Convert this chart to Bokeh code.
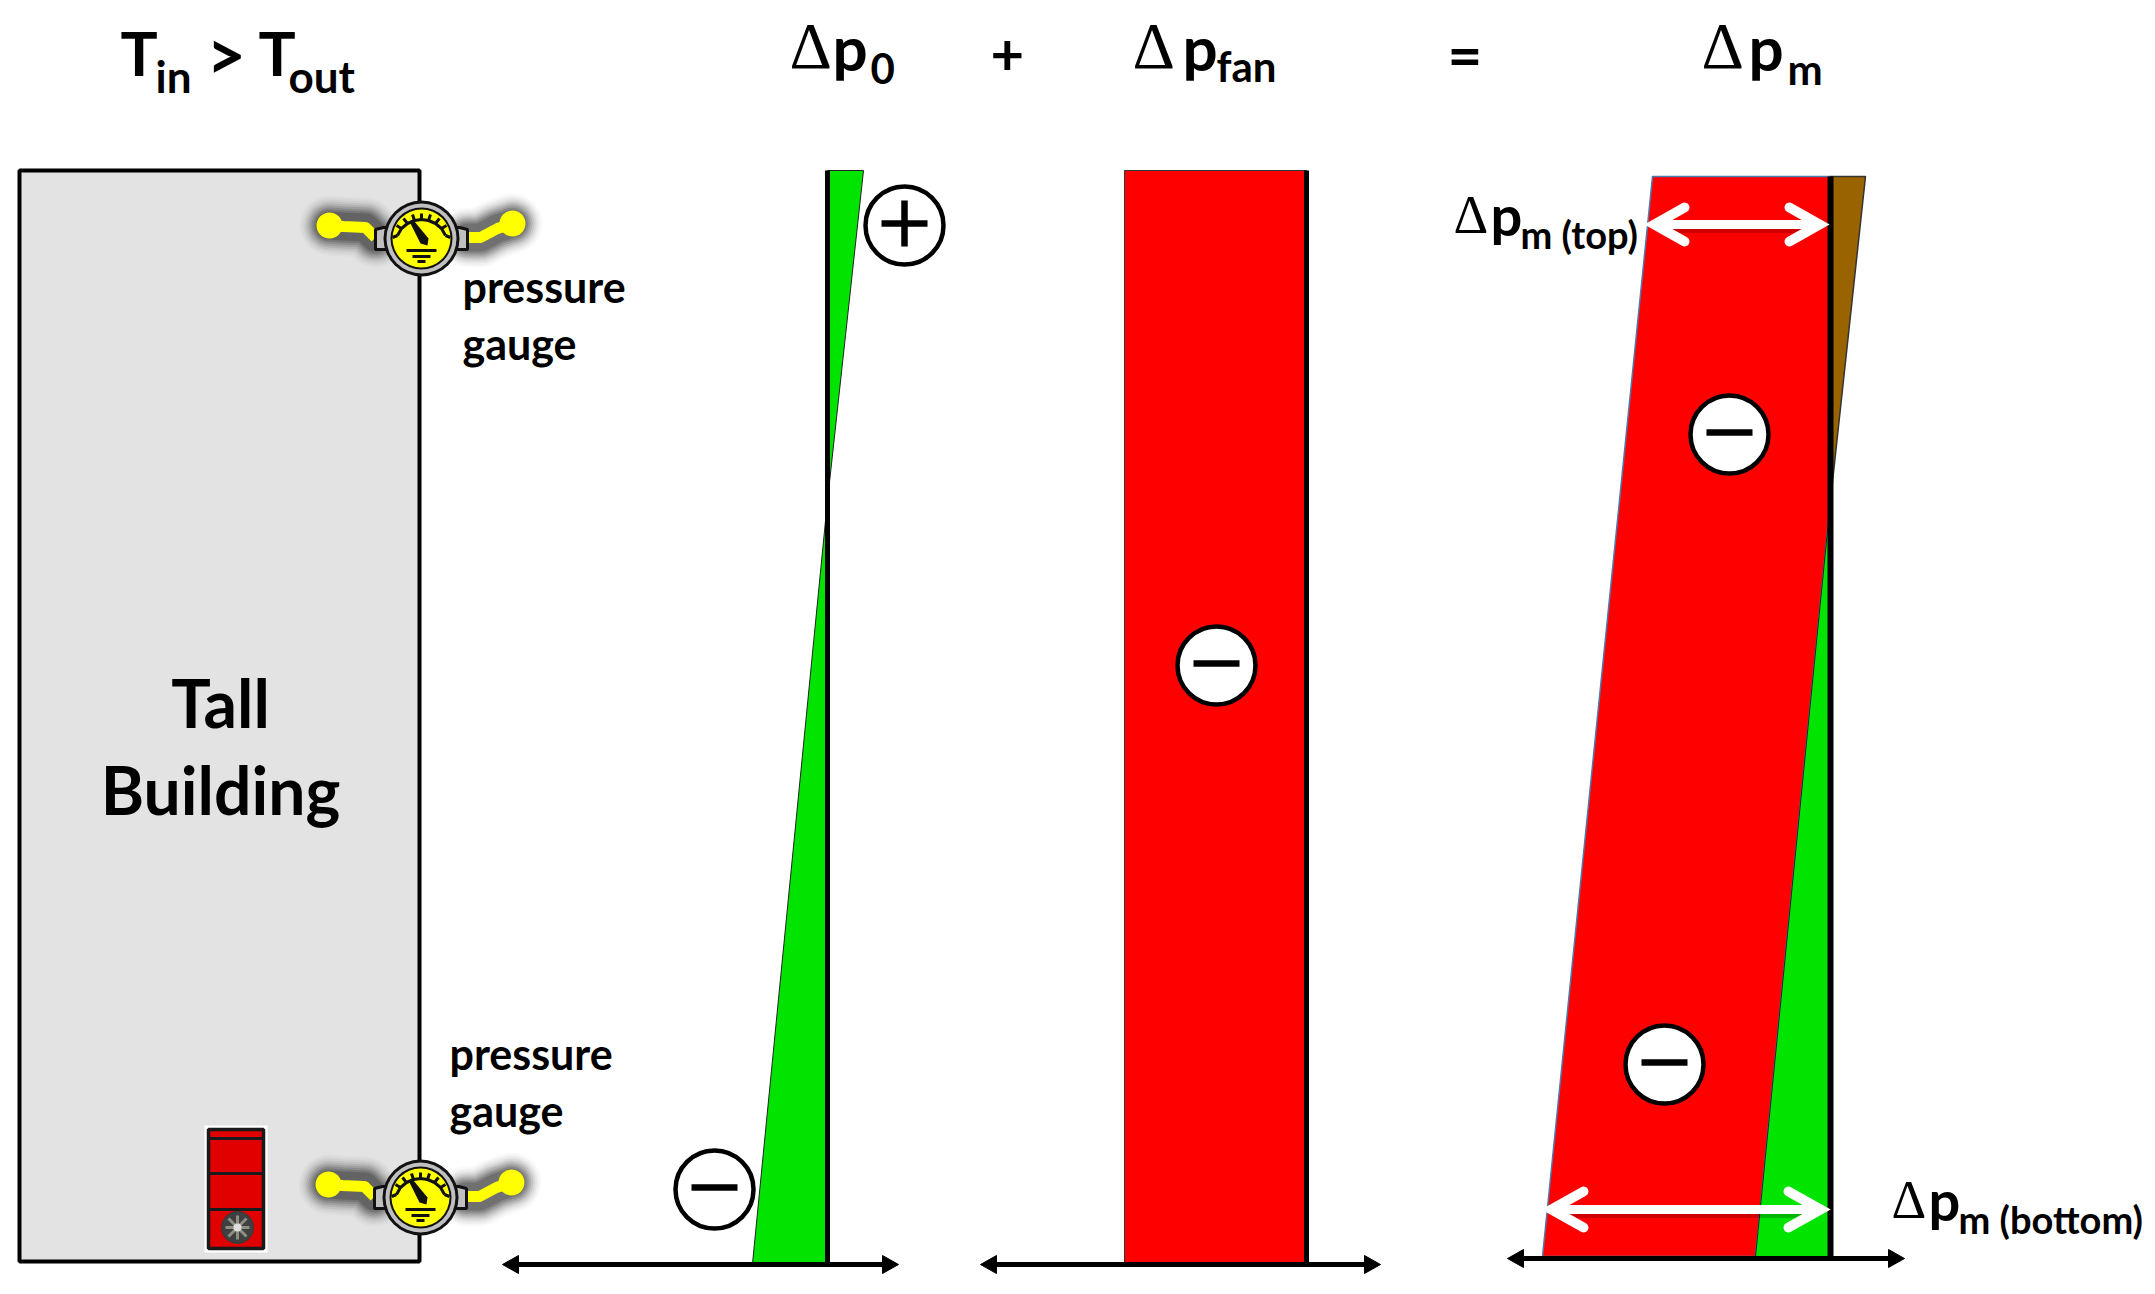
from bokeh.embed import file_html
from bokeh.models import Range1d
from bokeh.plotting import figure
from bokeh.resources import INLINE

# everything is in picture units: x to the right, y downwards
building_x = [19, 419, 419, 19]
building_y = [170, 170, 1261, 1261]

# pressure profiles
dp0_top_x = [827, 863, 827]
dp0_top_y = [170, 170, 500]
dp0_bottom_x = [827, 827, 752]
dp0_bottom_y = [500, 1263, 1263]
dp0_axis_x = 827
dp0_axis_y = [170, 1263]

fan_x = [1124, 1306, 1306, 1124]
fan_y = [170, 170, 1263, 1263]
fan_axis_x = 1306

dpm_red_x = [1652, 1830, 1830, 1755, 1542]
dpm_red_y = [176, 176, 500, 1256, 1256]
dpm_green_x = [1830, 1830, 1755]
dpm_green_y = [500, 1256, 1256]
dpm_brown_x = [1830, 1865, 1830]
dpm_brown_y = [176, 176, 500]
dpm_axis_x = 1830
dpm_axis_y = [176, 1256]

# horizontal axes: left end, right end, height
axis_left = [502, 980, 1507]
axis_right = [898, 1380, 1904]
axis_height = [1264, 1264, 1258]

# white double arrows
span_left = [1654, 1551]
span_right = [1819, 1820]
span_height = [224, 1209]
span_head_dx = [30, 32]
span_head_dy = [17, 18]

# sign badges
plus_x = [904]
plus_y = [225]
minus_x = [714, 1216, 1729, 1664]
minus_y = [1189, 665, 434, 1064]

# gauge, relative to its centre
gauge_centres_x = [421, 420]
gauge_centres_y = [238, 1197]
gauge_handle_lx = [-92, -78, -56, -46]
gauge_handle_ly = [-13, -12, -11, -1]
gauge_handle_rx = [46, 59, 76, 91]
gauge_handle_ry = [-1, -1, -10, -15]
gauge_bracket_x = [-46, -38, 38, 46, 46, -46]
gauge_bracket_y = [-9, -11, -11, -9, 11, 11]
gauge_arc_x = [-24, -20, -14, -7, 0, 7, 14, 20, 24]
gauge_arc_y = [-3, -10, -15, -18, -19, -18, -15, -10, -3]
gauge_tick_x1 = [-29, -25, -18, -9, 0, 9, 18, 25, 29]
gauge_tick_y1 = [-1, -13, -20, -24, -25, -24, -20, -13, -1]
gauge_needle_x = [-11, -7, 7, 6, -1]
gauge_needle_y = [-15, -17, 0, 7, 5]
gauge_ground_half = [15, 9, 4]
gauge_ground_y = [12, 18, 23]

# blower door
door_x = [208, 263, 263, 208]
door_y = [1129, 1129, 1248, 1248]
door_dividers = [1138, 1173, 1209]
door_fan_x = 237
door_fan_y = 1227
door_blade_dx = [0, 9, 12, 9, 0, -9, -12, -9]
door_blade_dy = [-12, -9, 0, 9, 12, 9, 0, -9]

# bold texts in the heading and on the chart
label_text = ["T", "in", ">", "T", "out", "p", "0", "+", "p", "fan", "=", "p", "m",
              "Tall", "Building", "pressure", "gauge", "pressure", "gauge",
              "p", "m (top)", "p", "m (bottom)"]
label_x = [120, 155, 206, 258, 288, 832, 870, 990, 1182, 1216, 1447, 1748, 1787,
           220, 220, 462, 462, 449, 449, 1490, 1520, 1928, 1958]
label_y = [76, 93, 80, 76, 93, 71, 85, 77, 71, 82, 77, 71, 85,
           728, 815, 303, 360, 1070, 1127, 236, 249, 1221, 1234]
label_size = [62, 44, 68, 62, 44, 62, 42, 58, 62, 42, 60, 62, 42,
              66, 66, 43, 43, 43, 43, 56, 38, 56, 38]
label_align = ["left"] * 13 + ["center", "center"] + ["left"] * 8

delta_x = [789, 1132, 1701, 1453, 1891]
delta_y = [71, 71, 71, 236, 1221]
delta_size = [66, 66, 66, 54, 54]

# (width, alpha) of the layers in the soft shadow around the gauge tubes
shadow_width = [60, 56, 52, 48, 44, 40, 36, 32, 28]
shadow_alpha = [0.02, 0.03, 0.04, 0.06, 0.08, 0.1, 0.12, 0.14, 0.16]

p = figure(width=2147, height=1286, output_backend="svg", toolbar_location=None,
           x_range=Range1d(0, 2147), y_range=Range1d(1286, 0), min_border=0)
p.xaxis.visible = False
p.yaxis.visible = False
p.grid.visible = False
p.outline_line_color = None

p.patch(building_x, building_y, fill_color="#e3e3e3", line_color="black", line_width=4)

# profiles
p.patch(dp0_top_x, dp0_top_y, fill_color="#00e400", line_color="#222222", line_width=1)
p.patch(dp0_bottom_x, dp0_bottom_y, fill_color="#00e400", line_color="#222222", line_width=1)
p.line([dp0_axis_x, dp0_axis_x], dp0_axis_y, line_color="black", line_width=5)

p.patch(fan_x, fan_y, fill_color="#ff0000", line_color="#333333", line_width=1)
p.line([fan_axis_x, fan_axis_x], [fan_y[0], fan_y[2]], line_color="black", line_width=5)

p.patch(dpm_red_x, dpm_red_y, fill_color="#ff0000", line_color="#4a7ab0", line_width=1.5)
p.patch(dpm_green_x, dpm_green_y, fill_color="#00e400", line_color="#222222", line_width=1)
p.patch(dpm_brown_x, dpm_brown_y, fill_color="#996300", line_color="#333333", line_width=1.5)
p.line([dpm_axis_x, dpm_axis_x], dpm_axis_y, line_color="black", line_width=6)

# axes with arrow heads on both ends
for left, right, h in zip(axis_left, axis_right, axis_height):
    p.line([left + 5, right - 5], [h, h], line_color="black", line_width=5)
    p.patch([left, left + 16, left + 16], [h, h - 9, h + 9], fill_color="black", line_color="black")
    p.patch([right, right - 16, right - 16], [h, h - 9, h + 9], fill_color="black", line_color="black")

# white double arrows, with a faint shadow under the shaft
for left, right, h, dx, dy in zip(span_left, span_right, span_height, span_head_dx, span_head_dy):
    p.line([left + 12, right - 12], [h + 4, h + 4], line_color="black", line_alpha=0.2, line_width=9)
    p.line([left + 3, right - 3], [h, h], line_color="white", line_width=9)
    p.line([left + dx, left, left + dx], [h - dy, h, h + dy], line_color="white",
           line_width=10, line_cap="round", line_join="miter")
    p.line([right - dx, right, right - dx], [h - dy, h, h + dy], line_color="white",
           line_width=10, line_cap="round", line_join="miter")

# sign badges
p.circle(plus_x + minus_x, plus_y + minus_y, radius=39, fill_color="white", line_color="black", line_width=4.5)
for x, y in zip(plus_x + minus_x, plus_y + minus_y):
    p.line([x - 23, x + 23], [y - 2, y - 2], line_color="black", line_width=6.5)
for x, y in zip(plus_x, plus_y):
    p.line([x, x], [y - 25, y + 21], line_color="black", line_width=6.5)

# blower door
p.patch([door_x[0] - 4, door_x[1] + 4, door_x[2] + 4, door_x[3] - 4],
        [door_y[0] - 4, door_y[1] - 4, door_y[2] + 4, door_y[3] + 4],
        fill_color="white", line_color=None)
p.patch(door_x, door_y, fill_color="#e00000", line_color="#1a1a1a", line_width=3.5)
p.multi_line([[door_x[0], door_x[1]]] * 3, [[d, d] for d in door_dividers], line_color="#1a1a1a", line_width=3)
p.circle([door_fan_x], [door_fan_y], radius=16, fill_color="#3d3f40", line_color="#33383c", line_width=1)
for dx, dy in zip(door_blade_dx, door_blade_dy):
    p.line([door_fan_x, door_fan_x + dx], [door_fan_y, door_fan_y + dy], line_color="#8f8f82", line_width=3)
p.circle([door_fan_x], [door_fan_y], radius=4, fill_color="#dedede", line_color=None)

# gauges
for cx, cy in zip(gauge_centres_x, gauge_centres_y):
    lx = [cx + v for v in gauge_handle_lx]
    ly = [cy + v for v in gauge_handle_ly]
    rx = [cx + v for v in gauge_handle_rx]
    ry = [cy + v for v in gauge_handle_ry]
    for width, alpha in zip(shadow_width, shadow_alpha):
        p.line(lx, ly, line_color="black", line_alpha=alpha, line_width=width, line_cap="round", line_join="round")
        p.line(rx, ry, line_color="black", line_alpha=alpha, line_width=width, line_cap="round", line_join="round")
    p.line(lx, ly, line_color="#ffff00", line_width=11, line_join="round")
    p.line(rx, ry, line_color="#ffff00", line_width=11, line_join="round")
    p.circle([lx[0], rx[-1]], [ly[0], ry[-1]], radius=13, fill_color="#ffff00", line_color=None)

    p.patch([cx + v for v in gauge_bracket_x], [cy + v for v in gauge_bracket_y],
            fill_color="#c0c0c0", line_color="#111111", line_width=3)
    p.circle([cx], [cy], radius=38, fill_color="#111111", line_color=None)
    p.circle([cx], [cy], radius=35, fill_color="#c0c0c0", line_color=None)
    p.circle([cx], [cy], radius=31, fill_color="#111111", line_color=None)
    p.circle([cx], [cy], radius=29, fill_color="#ffff00", line_color=None)
    p.line([cx + v for v in gauge_arc_x], [cy + v for v in gauge_arc_y], line_color="#111111", line_width=3)
    for x0, y0, x1, y1 in zip(gauge_arc_x, gauge_arc_y, gauge_tick_x1, gauge_tick_y1):
        p.line([cx + x0, cx + x1], [cy + y0, cy + y1], line_color="#111111", line_width=3)
    p.patch([cx + v for v in gauge_needle_x], [cy + v for v in gauge_needle_y], fill_color="#111111", line_color=None)
    for half, gy in zip(gauge_ground_half, gauge_ground_y):
        p.line([cx - half, cx + half], [cy + gy, cy + gy], line_color="#111111", line_width=3)

# texts, the text glyph sits about 0.4 of the size under its anchor here
for text, x, y, size, align in zip(label_text, label_x, label_y, label_size, label_align):
    p.text([x], [y], text=[text], text_font={"value": "Lato"}, text_font_style="bold",
           text_font_size=f"{size}px", text_color="black", text_align=align, text_baseline="alphabetic",
           y_offset=-0.4 * size)
for x, y, size in zip(delta_x, delta_y, delta_size):
    p.text([x], [y], text=["\u0394"], text_font={"value": "Liberation Serif"},
           text_font_size=f"{size}px", text_color="black", text_align="left", text_baseline="alphabetic",
           y_offset=-0.4 * size)

open("out.html", "w").write(file_html(p, INLINE))
